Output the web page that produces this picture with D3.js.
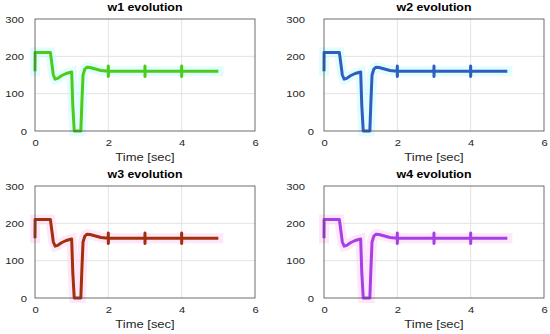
<!DOCTYPE html>
<html>
<head>
<meta charset="utf-8">
<script src="https://cdn.jsdelivr.net/npm/d3@7"></script>
<style>
  html, body { margin: 0; padding: 0; background: #fff; }
  svg { display: block; font-family: "Liberation Sans", Arial, sans-serif; }
</style>
</head>
<body>
<svg id="chart" width="550" height="334"></svg>
<script>
// ---- data ----
const seriesNames = ["w1", "w2", "w3", "w4"];
const seriesColors = ["#4ccb17", "#2f5ebf", "#a3300d", "#a63fe6"];
const glowColors = ["#c8fbff", "#c8fbff", "#fcd3f4", "#fcd3f4"];
const time = [0, 0.003, 0.42, 0.46, 0.5, 0.55, 0.62, 0.72, 0.85, 1.0, 1.03, 1.07, 1.25, 1.28, 1.31, 1.36, 1.42, 1.5, 1.65, 1.8, 1.995, 2.0, 2.0, 2.005, 2.995, 3.0, 3.0, 3.005, 3.995, 4.0, 4.0, 4.005, 5.0];
const wValues = [160, 210, 210, 180, 150, 139, 141, 148, 154, 158, 70, 0, 0, 80, 150, 166, 171, 170, 166, 162, 160, 174, 146, 160, 160, 174, 146, 160, 160, 174, 146, 160, 160];
const xTicks = [0, 2, 4, 6];
const yTicks = [0, 100, 200, 300];

// ---- layout ----
const svg = d3.select("#chart");
const panelW = 220, panelH = 112;
const sx = 1.18; // horizontal stretch of text in reference
const panels = [
  { left: 35, top: 19, gap: 11, gap0: 8 },
  { left: 324, top: 19, gap: 19, gap0: 10 },
  { left: 35, top: 186, gap: 11, gap0: 8 },
  { left: 324, top: 186, gap: 19, gap0: 10 }
];

seriesNames.forEach((name, i) => {
  const p = panels[i];
  const g = svg.append("g").attr("transform", `translate(${p.left},${p.top})`);
  const x = d3.scaleLinear().domain([0, 6]).range([0, panelW]);
  const y = d3.scaleLinear().domain([0, 300]).range([panelH, 0]);

  // grid
  g.selectAll(".gx").data(xTicks.filter(t => t > 0 && t < 6)).join("line")
    .attr("x1", d => x(d)).attr("x2", d => x(d)).attr("y1", 0).attr("y2", panelH)
    .attr("stroke", "#e3e3e3").attr("stroke-width", 1);
  g.selectAll(".gy").data(yTicks.filter(t => t > 0 && t < 300)).join("line")
    .attr("y1", d => y(d)).attr("y2", d => y(d)).attr("x1", 0).attr("x2", panelW)
    .attr("stroke", "#e3e3e3").attr("stroke-width", 1);

  // line
  const pts = time.map((t, k) => [t, wValues[k]]);
  const line = d3.line().x(d => x(d[0])).y(d => y(d[1]));
  g.append("path").attr("d", line(pts)).attr("fill", "none")
    .attr("stroke", glowColors[i]).attr("stroke-width", 10).attr("opacity", 0.55)
    .attr("stroke-linejoin", "miter").attr("stroke-linecap", "square");
  g.append("path").attr("d", line(pts)).attr("fill", "none")
    .attr("stroke", seriesColors[i]).attr("stroke-width", 3)
    .attr("stroke-linejoin", "round");

  // box
  g.append("rect").attr("x", 0).attr("y", 0).attr("width", panelW).attr("height", panelH)
    .attr("fill", "none").attr("stroke", "#4a4a4a").attr("stroke-width", 0.8);

  // x axis
  const xAxis = d3.axisBottom(x).tickValues(xTicks).tickFormat(d3.format("d")).tickSize(0).tickPadding(0);
  const xa = g.append("g").attr("transform", `translate(0,${panelH})`).call(xAxis);
  xa.select(".domain").remove();
  xa.selectAll("text").attr("y", 8).attr("dy", "0.71em").attr("transform", `scale(${sx},1)`)
    .attr("font-size", 9.5).attr("fill", "#262626").attr("font-family", "Liberation Sans, Arial, sans-serif");

  // y axis
  const yAxis = d3.axisLeft(y).tickValues(yTicks).tickFormat(d3.format("d")).tickSize(0).tickPadding(0);
  const ya = g.append("g").call(yAxis);
  ya.select(".domain").remove();
  ya.selectAll("text").attr("x", d => (d === 0 ? -p.gap0 : -p.gap) / sx).attr("dy", "0.35em")
    .attr("transform", `scale(${sx},1)`)
    .attr("font-size", 9.5).attr("fill", "#262626").attr("font-family", "Liberation Sans, Arial, sans-serif");

  // title
  g.append("text").attr("transform", `translate(${panelW / 2},-8) scale(${sx},1)`)
    .attr("text-anchor", "middle")
    .attr("font-size", 10.5).attr("font-weight", "bold").attr("fill", "#000")
    .text(name + " evolution");

  // x label
  g.append("text").attr("transform", `translate(${panelW / 2},${panelH + 30}) scale(${sx},1)`)
    .attr("text-anchor", "middle")
    .attr("font-size", 11).attr("fill", "#262626").text("Time [sec]");
});
</script>
</body>
</html>
